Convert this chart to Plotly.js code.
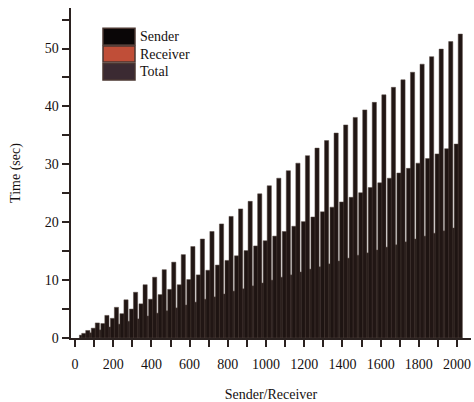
<!DOCTYPE html>
<html>
<head>
<meta charset="utf-8">
<script src="https://cdn.plot.ly/plotly-3.0.1.min.js"></script>
<style>html,body{margin:0;padding:0;background:#fff;}#chart{width:474px;height:402px;}</style>
</head>
<body>
<div id="chart"></div>
<script>
const nodes = [50,100,150,200,250,300,350,400,450,500,550,600,650,700,750,800,850,900,950,1000,
               1050,1100,1150,1200,1250,1300,1350,1400,1450,1500,1550,1600,1650,1700,1750,1800,1850,1900,1950,2000];
const senderTime = [0.5,0.9,1.4,1.9,2.4,2.9,3.3,3.8,4.3,4.7,5.2,5.7,6.2,6.7,7.1,7.6,8.1,8.5,9.0,9.5,
                    10.0,10.5,10.9,11.4,11.9,12.3,12.8,13.3,13.8,14.3,14.7,15.2,15.7,16.1,16.6,17.1,17.6,18.1,18.5,19.0];
const receiverTime = [0.8,1.7,2.5,3.4,4.2,5.0,5.9,6.7,7.5,8.4,9.2,10.1,10.9,11.7,12.6,13.4,14.2,15.1,15.9,16.8,
                      17.6,18.4,19.3,20.1,20.9,21.8,22.6,23.5,24.3,25.1,26.0,26.8,27.6,28.5,29.3,30.2,31.0,31.8,32.7,33.5];
const totalTime = [1.3,2.6,3.9,5.3,6.6,7.9,9.2,10.5,11.8,13.1,14.4,15.8,17.1,18.4,19.7,21.0,22.3,23.6,24.9,26.3,
                   27.6,28.9,30.2,31.5,32.8,34.1,35.4,36.8,38.1,39.4,40.7,42.0,43.3,44.6,45.9,47.3,48.6,49.9,51.2,52.5];
const seriesNames = ['Sender','Receiver','Total'];
const xTickVals = [0,200,400,600,800,1000,1200,1400,1600,1800,2000];
const yTickVals = [0,10,20,30,40,50];

const barColors = ['#1a100f','#1e1412','#211614'];
const swatchColors = ['#0a0607','#c04e38','#3b2a32'];
const seriesData = [senderTime, receiverTime, totalTime];
// bar placement within each 50-unit slot (styling only)
const barOffset = [-27, -15, 6];
const barWidth = [20, 30, 22];

const traces = seriesNames.map((name, i) => ({
  type: 'bar',
  name: name,
  x: nodes,
  y: seriesData[i],
  offset: barOffset[i],
  width: barWidth[i],
  marker: {color: barColors[i], line: {color: '#584a45', width: 0.5}},
  showlegend: false,
  hoverinfo: 'x+y+name'
}));

const font = {family: '"Liberation Serif", "Times New Roman", serif', color: '#151010'};

// Legend built as shapes + text
const shapes = [];
const annotations = [];
const legTop = [0.939, 0.885, 0.832];
const legBot = [0.888, 0.836, 0.782];
seriesNames.forEach((name, i) => {
  shapes.push({type: 'rect', xref: 'paper', yref: 'paper', x0: 0.08, x1: 0.16,
    y0: legBot[i], y1: legTop[i], fillcolor: swatchColors[i],
    line: {color: '#4a3631', width: 1.5}});
  annotations.push({xref: 'paper', yref: 'paper', x: 0.167, y: (legTop[i] + legBot[i]) / 2,
    xanchor: 'left', yanchor: 'middle', showarrow: false, text: name,
    font: Object.assign({}, font, {size: 14})});
});

const layout = {
  width: 474, height: 402,
  margin: {l: 71, r: 3, t: 8, b: 64},
  paper_bgcolor: '#ffffff', plot_bgcolor: '#ffffff',
  barmode: 'overlay',
  font: font,
  xaxis: {
    range: [-21, 2073],
    tickvals: xTickVals, ticktext: xTickVals.map(String),
    ticks: 'outside', ticklen: 7, tickwidth: 2, tickcolor: '#2b2220',
    ticklabelstandoff: 5,
    minor: {dtick: 100, tick0: 0, ticks: 'outside', ticklen: 7, tickwidth: 2, tickcolor: '#2b2220'},
    showline: true, linecolor: '#2b2220', linewidth: 2,
    showgrid: false, zeroline: false,
    tickfont: Object.assign({}, font, {size: 14}),
    title: {text: 'Sender/Receiver', font: Object.assign({}, font, {size: 14}), standoff: 19}
  },
  yaxis: {
    range: [0, 57],
    tickvals: yTickVals,
    ticks: 'outside', ticklen: 7, tickwidth: 2, tickcolor: '#2b2220',
    minor: {dtick: 5, tick0: 0, ticks: 'outside', ticklen: 7, tickwidth: 2, tickcolor: '#2b2220'},
    showline: true, linecolor: '#2b2220', linewidth: 2.5,
    showgrid: false, zeroline: false,
    tickfont: Object.assign({}, font, {size: 14}),
    title: {text: 'Time (sec)', font: Object.assign({}, font, {size: 14}), standoff: 21}
  },
  shapes: shapes,
  annotations: annotations
};

Plotly.newPlot('chart', traces, layout, {displayModeBar: false, staticPlot: true});
</script>
</body>
</html>
